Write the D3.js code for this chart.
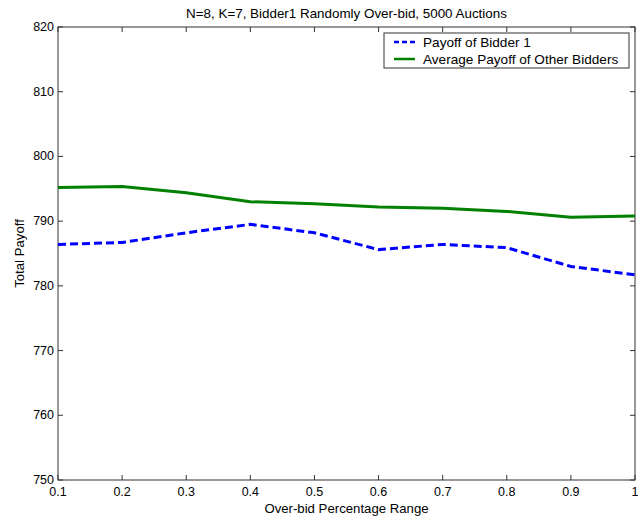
<!DOCTYPE html>
<html>
<head>
<meta charset="utf-8">
<script src="https://cdn.jsdelivr.net/npm/d3@7"></script>
<style>
  body { margin: 0; background: #fff; }
  text { font-family: "Liberation Sans", Arial, sans-serif; }
</style>
</head>
<body>
<svg id="chart" width="638" height="519"></svg>
<script>
// over-bid ranges
const ranges = [0.1, 0.2, 0.3, 0.4, 0.5, 0.6, 0.7, 0.8, 0.9, 1.0];
const bidder1 = [786.4, 786.7, 788.2, 789.5, 788.2, 785.6, 786.4, 785.9, 783.0, 781.7];
const others  = [795.2, 795.35, 794.4, 793.0, 792.7, 792.2, 792.0, 791.5, 790.6, 790.8];
const xTicks = [0.1, 0.2, 0.3, 0.4, 0.5, 0.6, 0.7, 0.8, 0.9, 1];
const yTicks = [750, 760, 770, 780, 790, 800, 810, 820];
const seriesNames = ["Payoff of Bidder 1", "Average Payoff of Other Bidders"];

const svg = d3.select("#chart");
const pLeft = 58, pRight = 635, pTop = 27, pBottom = 480;

const x = d3.scaleLinear().domain([0.1, 1]).range([pLeft, pRight]);
const y = d3.scaleLinear().domain([750, 820]).range([pBottom, pTop]);

const axisColor = "#333";
const fmtX = d => d === 1 ? "1" : d3.format(".1f")(d);

// frame
svg.append("rect")
  .attr("x", pLeft).attr("y", pTop)
  .attr("width", pRight - pLeft).attr("height", pBottom - pTop)
  .attr("fill", "none").attr("stroke", axisColor).attr("stroke-width", 1);

const tickLen = 5;
const ticks = svg.append("g").attr("stroke", axisColor).attr("stroke-width", 1);
xTicks.forEach(t => {
  ticks.append("line").attr("x1", x(t)).attr("x2", x(t)).attr("y1", pBottom).attr("y2", pBottom - tickLen);
  ticks.append("line").attr("x1", x(t)).attr("x2", x(t)).attr("y1", pTop).attr("y2", pTop + tickLen);
});
yTicks.forEach(t => {
  ticks.append("line").attr("x1", pLeft).attr("x2", pLeft + tickLen).attr("y1", y(t)).attr("y2", y(t));
  ticks.append("line").attr("x1", pRight).attr("x2", pRight - tickLen).attr("y1", y(t)).attr("y2", y(t));
});

svg.append("g").selectAll("text").data(xTicks).enter().append("text")
  .attr("x", d => x(d)).attr("y", pBottom + 16)
  .attr("text-anchor", "middle").attr("font-size", 12.5).attr("fill", "#000")
  .text(fmtX);

svg.append("g").selectAll("text").data(yTicks).enter().append("text")
  .attr("x", pLeft - 4).attr("y", d => y(d) + 4)
  .attr("text-anchor", "end").attr("font-size", 12.5).attr("fill", "#000")
  .text(d => d);

// lines
const line = d3.line().x((d, i) => x(ranges[i])).y(d => y(d));

svg.append("path").datum(others)
  .attr("d", line).attr("fill", "none")
  .attr("stroke", "#008000").attr("stroke-width", 3);

svg.append("path").datum(bidder1)
  .attr("d", line).attr("fill", "none")
  .attr("stroke", "#0000ff").attr("stroke-width", 3)
  .attr("stroke-dasharray", "8,4");

// titles
svg.append("text").attr("x", (pLeft + pRight) / 2).attr("y", 18)
  .attr("text-anchor", "middle").attr("font-size", 13.4)
  .text("N=8, K=7, Bidder1 Randomly Over-bid, 5000 Auctions");

svg.append("text").attr("x", (pLeft + pRight) / 2).attr("y", 513)
  .attr("text-anchor", "middle").attr("font-size", 13.2)
  .text("Over-bid Percentage Range");

svg.append("text")
  .attr("transform", `translate(24,${(pTop + pBottom) / 2}) rotate(-90)`)
  .attr("text-anchor", "middle").attr("font-size", 13.2)
  .text("Total Payoff");

// legend
const lg = svg.append("g");
lg.append("rect").attr("x", 384).attr("y", 33).attr("width", 245).attr("height", 35)
  .attr("fill", "#fff").attr("stroke", axisColor).attr("stroke-width", 1);
const legendStyles = [
  { color: "#0000ff", dash: "5,3" },
  { color: "#008000", dash: null }
];
seriesNames.forEach((name, i) => {
  const ly = 42 + i * 17;
  const l = lg.append("line").attr("x1", 394).attr("x2", 415).attr("y1", ly).attr("y2", ly)
    .attr("stroke", legendStyles[i].color).attr("stroke-width", 2.5);
  if (legendStyles[i].dash) l.attr("stroke-dasharray", legendStyles[i].dash);
  lg.append("text").attr("x", 423).attr("y", ly + 5).attr("font-size", 13.6).text(name);
});
</script>
</body>
</html>
